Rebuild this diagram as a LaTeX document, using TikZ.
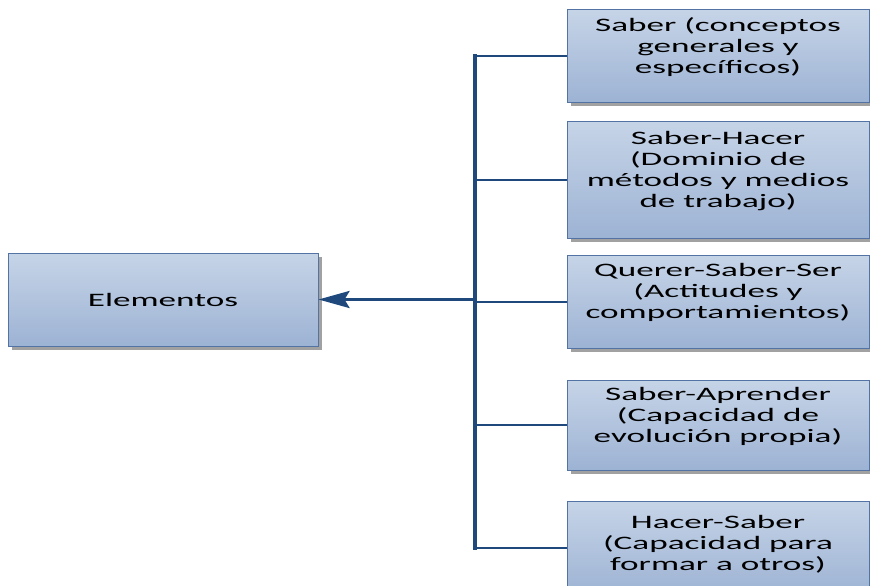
\documentclass[tikz,border=0pt]{standalone}
\usepackage{fontspec}
\newfontfamily\fuente{Carlito}[FakeStretch=1.85]
\usetikzlibrary{positioning}
\usetikzlibrary{shadows}
\usetikzlibrary{arrows.meta}
\definecolor{cajaarriba}{RGB}{198,212,231}
\definecolor{cajaabajo}{RGB}{157,179,212}
\definecolor{cajaborde}{RGB}{84,115,165}
\definecolor{linea}{RGB}{31,73,125}
\tikzset{
  caja/.style={draw=cajaborde, line width=1pt, top color=cajaarriba, bottom color=cajaabajo,
    general shadow={fill=black!37, shadow xshift=4pt, shadow yshift=-4pt},
    minimum width=302pt, inner sep=0pt, text=black, font=\fuente\fontsize{19}{21}\selectfont},
  rama/.style={draw=linea, line width=2pt},
  tronco/.style={draw=linea, line width=3.2pt},
}
% text sits a little above the middle of the box
\newcommand{\arriba}[2][16pt]{\begin{tabular}{@{}c@{}}#2\\[#1]\end{tabular}}

\begin{document}
\begin{tikzpicture}[x=1pt,y=-1pt]
		\useasboundingbox (0,0) rectangle (870,586);
		\clip (0,0) rectangle (870,586);
		% Right Column
		\node [caja, minimum height=92pt] at (718,56) (s1) {\arriba{Saber (conceptos\\generales y\\específicos)}};
		\node [caja, minimum height=117pt, below=18pt of s1] (s2) {\arriba{Saber-Hacer\\(Dominio de\\métodos y medios\\de trabajo)}};
		\node [caja, minimum height=93pt, below=16pt of s2] (s3) {\arriba{Querer-Saber-Ser\\(Actitudes y\\comportamientos)}};
		\node [caja, minimum height=90pt, below=31pt of s3] (s4) {\arriba{Saber-Aprender\\(Capacidad de\\evolución propia)}};
		\node [caja, minimum height=94pt, below=30pt of s4] (s5) {\arriba[6pt]{Hacer-Saber\\(Capacidad para\\formar a otros)}};
		% Left box
		\node [caja, minimum width=310pt, minimum height=93pt] at (163,299.5) (elem) {Elementos};
		
		% Connections
		\coordinate (t) at (475,0);
		\foreach \s in {s1,s2,s3,s4,s5}
			\draw [rama] (t |- \s.west) -- (\s.west);
		\draw [tronco, line cap=rect] (t |- s1.west) -- (t |- s5.west);
		\draw [tronco, -{Stealth[length=31pt, width=17pt, inset=5pt]}] (t |- elem.east) -- (elem.east);
\end{tikzpicture}
\end{document}
